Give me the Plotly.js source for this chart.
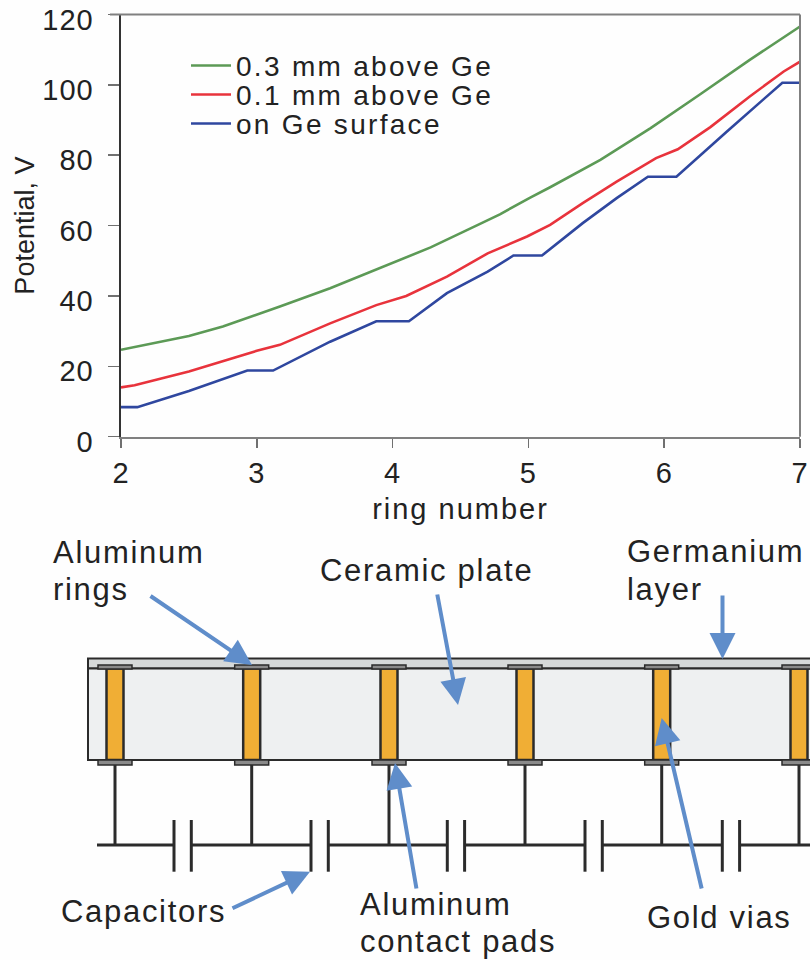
<!DOCTYPE html>
<html>
<head>
<meta charset="utf-8">
<script src="https://cdn.plot.ly/plotly-3.0.1.min.js"></script>
<style>
html,body{margin:0;padding:0;background:#fff}
.legendtext{font-size:28px !important;letter-spacing:2.3px;transform:translate(0,3px)}
.annotation-text{letter-spacing:1.7px}
g.xtick text,g.ytick text{letter-spacing:1px}
.xtitle{letter-spacing:2px}
</style>
</head>
<body>
<div id="chart" style="width:810px;height:960px"></div>
<script>
// ---------- chart data ----------
var ringGreen = [2,2.25,2.5,2.75,3,3.17,3.54,3.91,4.28,4.64,4.79,5.01,5.16,5.53,5.9,6.26,6.63,7];
var potGreen  = [24.7,26.6,28.6,31.3,34.6,37,42.2,47.9,53.8,60.4,63.2,67.9,70.9,78.7,87.7,97.2,107.1,116.6];
var ringRed = [2,2.1,2.5,2.9,3,3.17,3.54,3.88,4.1,4.4,4.7,4.99,5.16,5.4,5.65,5.94,6.1,6.34,6.63,6.88,7];
var potRed  = [14,14.6,18.5,23.2,24.4,26.1,32.2,37.4,40,45.5,52.1,56.9,60.2,66.4,72.5,79.2,81.7,88,96.7,103.8,106.6];
var ringBlue = [2,2.12,2.5,2.93,3.12,3.54,3.88,4.12,4.4,4.7,4.89,5.1,5.4,5.65,5.88,6.09,6.46,6.87,7];
var potBlue  = [8.4,8.4,13,18.8,18.8,27,32.8,32.8,40.8,46.9,51.5,51.5,60.7,67.8,73.9,73.9,86.7,100.6,100.6];
var seriesNames = ['0.3 mm above Ge','0.1 mm above Ge','on Ge surface'];
var xTicks = [2,3,4,5,6,7];
var yTicks = [0,20,40,60,80,100,120];

// ---------- diagram labels ----------
var labelTexts = ['Aluminum','rings','Ceramic plate','Germanium','layer','Capacitors','Aluminum','contact pads','Gold vias'];
var labelLefts = [51,51,318,625,625,59,358,358,645];
var labelMids  = [552,589,570,551,589,911,904,941,917];

// ---------- diagram geometry (page pixels) ----------
var viaCentres = [115,251.7,389,525,661.7,799];
var capLeft    = [174,311,447.3,585,722.3];
var W = 810, H = 960;
function px(x){return x/W;}
function py(y){return 1-y/H;}
var dark = '#2b2b2b';
var shapes = [];
function rect(x0,y0,x1,y1,fill,lw,col){
  shapes.push({type:'rect',xref:'paper',yref:'paper',x0:px(x0),x1:px(x1),y0:py(y0),y1:py(y1),
    fillcolor:fill,line:{color:col||dark,width:lw}});
}
function seg(x0,y0,x1,y1,lw,col){
  shapes.push({type:'line',xref:'paper',yref:'paper',x0:px(x0),x1:px(x1),y0:py(y0),y1:py(y1),
    line:{color:col||dark,width:lw}});
}
// plot frame right edge and top edge
seg(800,14.5,800,436.7,2,'#808080');
seg(110,14.5,800,14.5,2,'#808080');
// germanium and ceramic
rect(88,658.5,830,668.5,'#d6d9d9',2);
rect(88,668.5,830,760,'#eef0f1',2);
viaCentres.forEach(function(c){
  rect(c-8.5,668.5,c+8.5,760,'#f0ae35',2.5);
  rect(c-17,665,c+17,669,'#8a8a8a',1.5);
  rect(c-17,760,c+17,765,'#8a8a8a',1.5);
  seg(c,765,c,845,3);
});
// capacitor line
var from = 97;
capLeft.forEach(function(c){
  seg(from,845,c,845,3);
  seg(c,820,c,871.7,3);
  seg(c+17.3,820,c+17.3,871.7,3);
  from = c+17.3;
});
seg(from,845,810,845,3);

// ---------- annotations ----------
var annotations = labelTexts.map(function(t,i){
  return {xref:'paper',yref:'paper',x:px(labelLefts[i]),y:py(labelMids[i]),text:t,showarrow:false,
    xanchor:'left',yanchor:'middle',font:{family:'Liberation Sans',size:31,color:'#222'}};
});
// [tail x, tail y, head x, head y]
var arrows = [[149,595,252,665],[437,593,458,705],[722.5,594,722.5,659],[231,909,310,871.7],[416.7,890,395,763],[702,890,661.7,718]];
arrows.forEach(function(a){
  annotations.push({xref:'paper',yref:'paper',x:px(a[2]),y:py(a[3]),axref:'pixel',ayref:'pixel',
    ax:a[0]-a[2],ay:a[1]-a[3],text:'',showarrow:true,arrowhead:2,arrowsize:1.3,arrowwidth:4,
    arrowcolor:'#5f8dca',standoff:0});
});

// ---------- traces ----------
var traces = [
  {x:ringGreen,y:potGreen,name:seriesNames[0],mode:'lines',line:{color:'#5c9a56',width:2.6}},
  {x:ringRed,y:potRed,name:seriesNames[1],mode:'lines',line:{color:'#e8333c',width:2.6}},
  {x:ringBlue,y:potBlue,name:seriesNames[2],mode:'lines',line:{color:'#2f479f',width:2.6}}
];

var layout = {
  width:W,height:H,margin:{l:0,r:0,t:0,b:0,pad:0},
  paper_bgcolor:'#fefefe',plot_bgcolor:'#fefefe',
  font:{family:'Liberation Sans',color:'#222'},
  xaxis:{domain:[px(121),px(800)],range:[2,7],tickvals:xTicks,ticks:'outside',ticklen:9,tickwidth:1.5,tickcolor:'#707070',
    showgrid:false,zeroline:false,showline:true,linecolor:'#808080',linewidth:2,mirror:false,
    tickfont:{size:29,color:'#222'},
    title:{text:'ring number',font:{size:29,color:'#222'},standoff:11}},
  yaxis:{domain:[py(436.7),py(14.5)],range:[0,120],tickvals:yTicks,ticks:'outside',ticklen:11,tickwidth:1.5,tickcolor:'#707070',
    showgrid:false,zeroline:false,showline:true,linecolor:'#333',linewidth:2.5,
    tickfont:{size:29,color:'#222'},ticklabelstandoff:8,ticklabelshift:5,
    title:{text:'Potential, V',font:{size:27,color:'#222'},standoff:0}},
  showlegend:true,
  legend:{x:px(186),y:py(46),xanchor:'left',yanchor:'top',bgcolor:'rgba(0,0,0,0)',borderwidth:0,
    font:{size:20,color:'#222'},itemwidth:40,traceorder:'normal'},
  shapes:shapes,annotations:annotations
};
Plotly.newPlot('chart',traces,layout,{displayModeBar:false,staticPlot:true});
</script>
</body>
</html>
